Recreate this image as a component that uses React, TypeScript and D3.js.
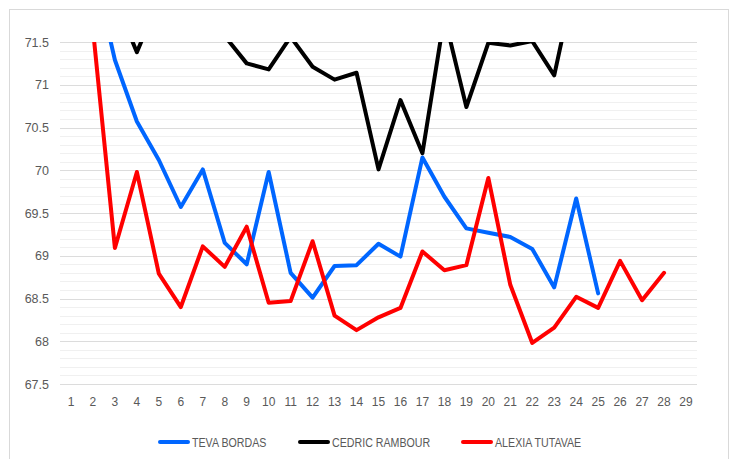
import React from "react";
import * as d3 from "d3";

const categories = d3.range(1, 30).map(String);
const seriesNames = ["TEVA BORDAS", "CEDRIC RAMBOUR", "ALEXIA TUTAVAE"];
const seriesColors = ["#0066ff", "#000000", "#ff0000"];

const tevaBordas: (number | null)[] = [null, 72.4, 71.29, 70.57, 70.12, 69.57, 70.01, 69.15, 68.9, 69.98, 68.8, 68.51, 68.88, 68.89, 69.14, 68.99, 70.15, 69.69, 69.32, 69.27, 69.22, 69.08, 68.63, 69.67, 68.56, null, null, null, null];
const cedricRambour: (number | null)[] = [null, null, 72.0, 71.38, 72.0, 72.1, 71.9, 71.57, 71.25, 71.18, 71.56, 71.21, 71.06, 71.14, 70.01, 70.82, 70.2, 71.8, 70.74, 71.49, 71.46, 71.51, 71.11, 72.3, null, null, null, null, null];
const alexiaTutavae: (number | null)[] = [null, 71.65, 69.09, 69.98, 68.79, 68.4, 69.11, 68.87, 69.34, 68.45, 68.47, 69.17, 68.3, 68.13, 68.28, 68.39, 69.05, 68.83, 68.89, 69.91, 68.66, 67.98, 68.16, 68.52, 68.39, 68.94, 68.48, 68.8, null];

const yTicks = [67.5, 68, 68.5, 69, 69.5, 70, 70.5, 71, 71.5];
const yMinor = d3.range(0, 41).map((i) => 67.5 + i * 0.1);

const W = 732, H = 459;
const PL = 60, PR = 697, PT = 42, PB = 384;

export default function App() {
  const x = d3.scaleBand<string>().domain(categories).range([PL, PR]).padding(0);
  const y = d3.scaleLinear().domain([67.5, 71.5]).range([PB, PT]);
  const cx = (i: number) => (x(categories[i]) as number) + x.bandwidth() / 2;
  const line = d3
    .line<number | null>()
    .defined((d) => d != null)
    .x((_, i) => cx(i))
    .y((d) => y(d as number));
  const all = [tevaBordas, cedricRambour, alexiaTutavae];
  const font = "'Liberation Sans', Arial, sans-serif";

  const legendX = [158, 298, 461];

  return (
    <svg width={W} height={H} style={{ position: "absolute", left: 0, top: 0 }} fontFamily={font}>
      <rect x={0} y={0} width={W} height={H} fill="#fff" />
      <rect x={9.5} y={9.5} width={719} height={470} fill="#fff" stroke="#d9d9d9" />
      <defs>
        <clipPath id="plot">
          <rect x={PL} y={PT} width={PR - PL} height={PB - PT} />
        </clipPath>
      </defs>
      {yMinor.map((v, i) => (
        <line key={"m" + i} x1={PL} x2={PR} y1={Math.round(y(v)) + 0.5} y2={Math.round(y(v)) + 0.5} stroke="#f0f0f0" />
      ))}
      {yTicks.map((v) => (
        <line key={"M" + v} x1={PL} x2={PR} y1={Math.round(y(v)) + 0.5} y2={Math.round(y(v)) + 0.5} stroke="#dcdcdc" />
      ))}
      {yTicks.map((v) => (
        <text key={"t" + v} x={49} y={y(v) + 4.5} textAnchor="end" fontSize={12.5} fill="#595959">
          {String(v)}
        </text>
      ))}
      {categories.map((c, i) => (
        <text key={"c" + c} x={cx(i)} y={406} textAnchor="middle" fontSize={12} fill="#595959">
          {c}
        </text>
      ))}
      <g clipPath="url(#plot)">
        {all.map((s, k) => (
          <path key={k} d={line(s) || ""} fill="none" stroke={seriesColors[k]} strokeWidth={4} strokeLinejoin="round" strokeLinecap="round" />
        ))}
      </g>
      {seriesNames.map((n, k) => (
        <g key={n}>
          <line x1={legendX[k] + 2} x2={legendX[k] + 30} y1={442} y2={442} stroke={seriesColors[k]} strokeWidth={4} strokeLinecap="round" />
          <text transform={`translate(${legendX[k] + 34},446.5) scale(0.82,1)`} fontSize={13} fill="#595959">
            {n}
          </text>
        </g>
      ))}
    </svg>
  );
}
